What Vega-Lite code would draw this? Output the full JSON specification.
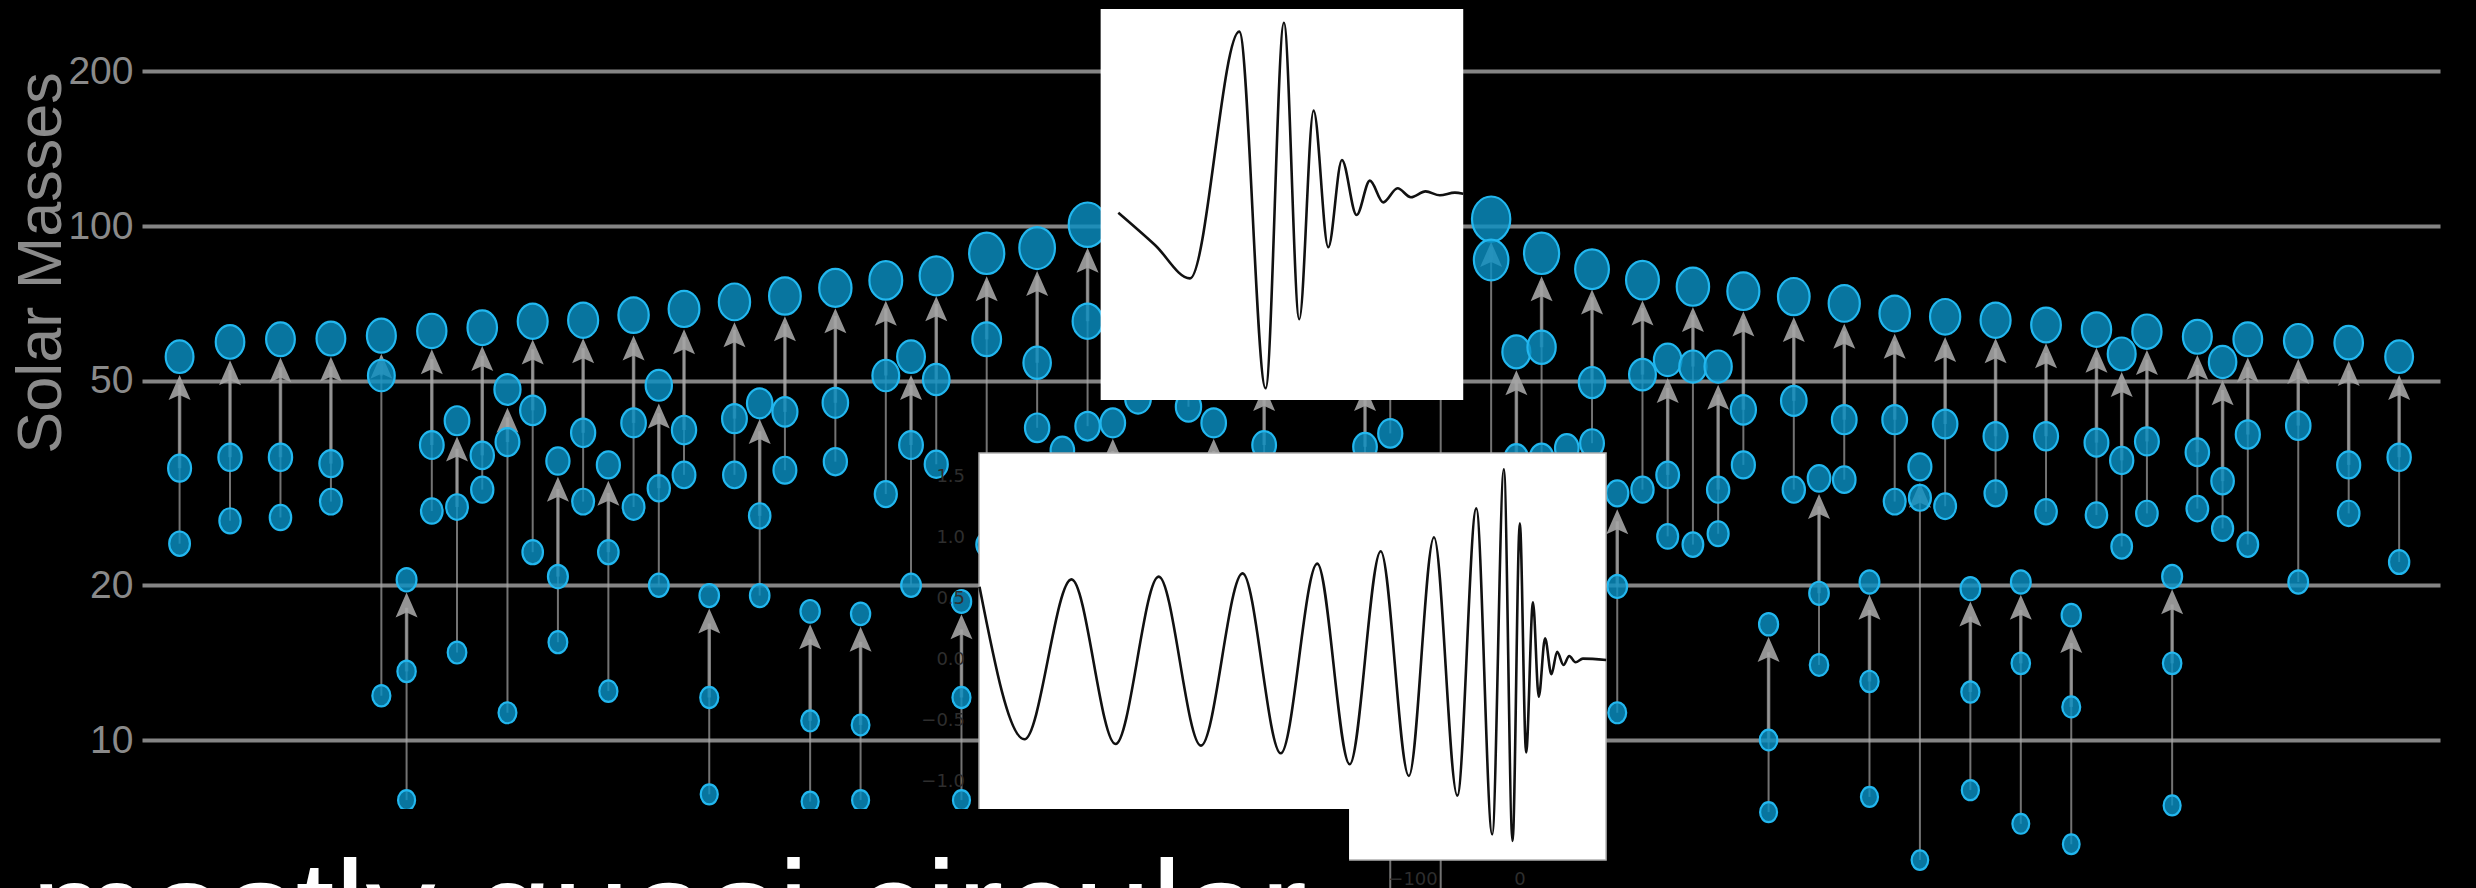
{
"$schema": "https://vega.github.io/schema/vega-lite/v6.json",
"width": 2298, "height": 888,
"autosize": {"type": "none"},
"padding": {"left": 142, "top": 0, "right": 36, "bottom": 0},
"background": "#000000",
"config": {"view": {"stroke": null}},
"datasets": {
"events": [
{"s":0,"mf":55.7,"m1":33.8,"m2":24.1},
{"s":1,"mf":59.5,"m1":35.5,"m2":26.7},
{"s":2,"mf":60.2,"m1":35.5,"m2":27.1},
{"s":3,"mf":60.4,"m1":34.5,"m2":29.1},
{"s":4,"mf":61.2,"m1":51.2,"m2":12.2},
{"s":4.5,"mf":20.5,"m1":13.6,"m2":7.64},
{"s":5,"mf":62.5,"m1":37.5,"m2":27.9},
{"s":5.5,"mf":41.8,"m1":28.4,"m2":14.8},
{"s":6,"mf":63.4,"m1":35.8,"m2":30.7},
{"s":6.5,"mf":48.1,"m1":38.0,"m2":11.3},
{"s":7,"mf":65.3,"m1":43.8,"m2":23.2},
{"s":7.5,"mf":34.9,"m1":20.8,"m2":15.5},
{"s":8,"mf":65.6,"m1":39.6,"m2":29.1},
{"s":8.5,"mf":34.3,"m1":23.2,"m2":12.45},
{"s":9,"mf":67.1,"m1":41.4,"m2":28.4},
{"s":9.5,"mf":49.0,"m1":30.9,"m2":20.0},
{"s":10,"mf":69.0,"m1":40.1,"m2":32.8},
{"s":10.5,"mf":19.1,"m1":12.1,"m2":7.84},
{"s":11,"mf":71.2,"m1":42.2,"m2":32.8},
{"s":11.5,"mf":45.2,"m1":27.3,"m2":19.1},
{"s":12,"mf":73.1,"m1":43.5,"m2":33.5},
{"s":12.5,"mf":17.8,"m1":10.9,"m2":7.59},
{"s":13,"mf":75.8,"m1":45.3,"m2":34.8},
{"s":13.5,"mf":17.6,"m1":10.7,"m2":7.64},
{"s":14,"mf":78.4,"m1":51.2,"m2":30.1},
{"s":14.5,"mf":55.7,"m1":37.5,"m2":20.0},
{"s":15,"mf":80.0,"m1":50.3,"m2":34.4},
{"s":15.5,"mf":18.6,"m1":12.1,"m2":7.64},
{"s":16,"mf":88.5,"m1":60.2,"m2":24.0},
{"s":17,"mf":90.6,"m1":54.2,"m2":40.5},
{"s":17.5,"mf":36.6,"m1":22.0,"m2":15.0},
{"s":18,"mf":100.6,"m1":65.3,"m2":40.8},
{"s":18.5,"mf":41.4,"m1":26.0,"m2":17.0},
{"s":19,"mf":120,"m1":70,"m2":46.2},
{"s":20,"mf":130,"m1":75,"m2":44.5},
{"s":20.5,"mf":41.4,"m1":25.0,"m2":17.0},
{"s":21.5,"mf":53,"m1":37.5,"m2":20},
{"s":23.5,"mf":53,"m1":37.2,"m2":20},
{"s":24,"mf":95,"m1":60,"m2":39.5},
{"s":24,"mf":30,"m1":25,"m2":4.5},
{"s":25,"mf":120,"m1":90,"m2":4.5},
{"s":26,"mf":103.2,"m1":85.9,"m2":20},
{"s":26.5,"mf":56.9,"m1":35.4,"m2":20},
{"s":27,"mf":88.5,"m1":58.1,"m2":35.5},
{"s":27.5,"mf":37.0,"m1":24,"m2":14},
{"s":28,"mf":82.4,"m1":49.6,"m2":37.8},
{"s":28.5,"mf":30.2,"m1":19.9,"m2":11.3},
{"s":29,"mf":78.5,"m1":51.4,"m2":30.7},
{"s":29.5,"mf":54.9,"m1":32.8,"m2":24.9},
{"s":30,"mf":76.2,"m1":53.3,"m2":24.0},
{"s":30.5,"mf":53.3,"m1":30.7,"m2":25.2},
{"s":31,"mf":74.7,"m1":43.9,"m2":34.3},
{"s":31.5,"mf":16.8,"m1":10.0,"m2":7.24},
{"s":32,"mf":72.9,"m1":45.7,"m2":30.7},
{"s":32.5,"mf":32.3,"m1":19.3,"m2":14.0},
{"s":33,"mf":70.7,"m1":42.0,"m2":32.1},
{"s":33.5,"mf":20.3,"m1":13.0,"m2":7.75},
{"s":34,"mf":67.6,"m1":42.0,"m2":29.1},
{"s":34.5,"mf":34.0,"m1":29.6,"m2":5.84},
{"s":35,"mf":66.6,"m1":41.2,"m2":28.5},
{"s":35.5,"mf":19.7,"m1":12.4,"m2":7.99},
{"s":36,"mf":65.6,"m1":39.0,"m2":30.2},
{"s":36.5,"mf":20.3,"m1":14.1,"m2":6.87},
{"s":37,"mf":64.2,"m1":39.0,"m2":27.8},
{"s":37.5,"mf":17.5,"m1":11.6,"m2":6.27},
{"s":38,"mf":62.9,"m1":37.9,"m2":27.4},
{"s":38.5,"mf":56.4,"m1":35.0,"m2":23.8},
{"s":39,"mf":62.3,"m1":38.1,"m2":27.6},
{"s":39.5,"mf":20.8,"m1":14.1,"m2":7.46},
{"s":40,"mf":60.9,"m1":36.3,"m2":28.2},
{"s":40.5,"mf":54.4,"m1":31.9,"m2":25.8},
{"s":41,"mf":60.2,"m1":39.3,"m2":24.0},
{"s":42,"mf":59.8,"m1":40.9,"m2":20.3},
{"s":43,"mf":59.3,"m1":34.3,"m2":27.6},
{"s":44,"mf":55.7,"m1":35.5,"m2":22.2}
],
"topwave": [
{"t":4.87,"h":-0.042},{"t":14.98,"h":-0.207},{"t":24.63,"h":-0.378},{"t":38.24,"h":0.884},
{"t":45.50,"h":-0.940},{"t":50.55,"h":0.930},{"t":54.78,"h":-0.587},{"t":58.73,"h":0.480},
{"t":62.78,"h":-0.219},{"t":66.54,"h":0.228},{"t":70.59,"h":-0.054},{"t":74.26,"h":0.122},
{"t":77.94,"h":0.011},{"t":81.89,"h":0.083},{"t":85.57,"h":0.037},{"t":89.61,"h":0.067},
{"t":93.56,"h":0.047},{"t":97.70,"h":0.061},{"t":100,"h":0.055}
],
"botwave": [
{"t":-505.2,"a":0.601},{"t":-463.2,"a":-0.650},{"t":-419.2,"a":0.661},{"t":-378.0,"a":-0.689},
{"t":-337.7,"a":0.683},{"t":-298.2,"a":-0.702},{"t":-259.3,"a":0.710},{"t":-223.6,"a":-0.765},
{"t":-189.5,"a":0.790},{"t":-159.2,"a":-0.855},{"t":-130.2,"a":0.891},{"t":-103.9,"a":-0.951},
{"t":-80.4,"a":1.006},{"t":-58.6,"a":-1.112},{"t":-40.9,"a":1.243},{"t":-26.0,"a":-1.429},
{"t":-15.1,"a":1.563},{"t":-7.0,"a":-1.484},{"t":-0.2,"a":1.120},{"t":5.7,"a":-0.757},
{"t":12.1,"a":0.473},{"t":17.5,"a":-0.301},{"t":23.4,"a":0.178},{"t":29.3,"a":-0.117},
{"t":34.7,"a":0.068},{"t":40.6,"a":-0.041},{"t":46.0,"a":0.033},{"t":51.9,"a":-0.019},
{"t":58.7,"a":0.011},{"t":80.5,"a":0.0}
]
},
"resolve": {"scale": {"x": "independent", "y": "independent"}},
"layer": [
{
"data": {"name": "events"},
"layer": [
{"mark": {"type": "rule", "color": "#a4a4a4", "strokeWidth": 2, "opacity": 0.7, "y2Offset": 28},
 "encoding": {
  "x": {"field": "s", "type": "quantitative", "scale": {"domain": [-0.745, 44.81], "nice": false, "zero": false}, "axis": null},
  "y": {"field": "m2", "type": "quantitative", "scale": {"type": "log", "domain": [5.154, 275.3], "nice": false},
        "axis": {"values": [10, 20, 50, 100, 200], "format": "d", "grid": true, "gridColor": "#858585", "gridWidth": 4, "domain": false, "ticks": false, "tickSize": 0, "labelPadding": 9, "labelFont": "Liberation Sans", "labelFontSize": 39, "labelColor": "#8a8a8a", "title": "Solar Masses", "titleFont": "Liberation Sans", "titleFontSize": 63, "titleFontWeight": "normal", "titleColor": "#8a8a8a", "titleX": -82, "titleY": 262.5, "titleAngle": -90, "titleAlign": "center", "titleBaseline": "alphabetic"}},
  "y2": {"field": "mf"}
 }},
{"mark": {"type": "rule", "color": "#a4a4a4", "strokeWidth": 3.5, "opacity": 0.7, "y2Offset": 28},
 "encoding": {
  "x": {"field": "s", "type": "quantitative", "scale": {"domain": [-0.745, 44.81], "nice": false, "zero": false}, "axis": null},
  "y": {"field": "m1", "type": "quantitative", "scale": {"type": "log", "domain": [5.154, 275.3], "nice": false},
        "axis": {"values": [10, 20, 50, 100, 200], "format": "d", "grid": true, "gridColor": "#858585", "gridWidth": 4, "domain": false, "ticks": false, "tickSize": 0, "labelPadding": 9, "labelFont": "Liberation Sans", "labelFontSize": 39, "labelColor": "#8a8a8a", "title": "Solar Masses", "titleFont": "Liberation Sans", "titleFontSize": 63, "titleFontWeight": "normal", "titleColor": "#8a8a8a", "titleX": -82, "titleY": 262.5, "titleAngle": -90, "titleAlign": "center", "titleBaseline": "alphabetic"}},
  "y2": {"field": "mf"}
 }},
{"transform": [{"filter": "datum.mf < 27"}],
 "mark": {"type": "point", "shape": "M 0 -1 L 0.88 1 L 0 0.6 L -0.88 1 Z", "size": 625, "filled": true, "color": "#a4a4a4", "opacity": 0.9, "yOffset": 25.3},
 "encoding": {
  "x": {"field": "s", "type": "quantitative", "scale": {"domain": [-0.745, 44.81], "nice": false, "zero": false}, "axis": null},
  "y": {"field": "mf", "type": "quantitative", "scale": {"type": "log", "domain": [5.154, 275.3], "nice": false},
        "axis": {"values": [10, 20, 50, 100, 200], "format": "d", "grid": true, "gridColor": "#858585", "gridWidth": 4, "domain": false, "ticks": false, "tickSize": 0, "labelPadding": 9, "labelFont": "Liberation Sans", "labelFontSize": 39, "labelColor": "#8a8a8a", "title": "Solar Masses", "titleFont": "Liberation Sans", "titleFontSize": 63, "titleFontWeight": "normal", "titleColor": "#8a8a8a", "titleX": -82, "titleY": 262.5, "titleAngle": -90, "titleAlign": "center", "titleBaseline": "alphabetic"}}
 }},
{"transform": [{"filter": "datum.mf >= 27 && datum.mf < 47"}],
 "mark": {"type": "point", "shape": "M 0 -1 L 0.88 1 L 0 0.6 L -0.88 1 Z", "size": 625, "filled": true, "color": "#a4a4a4", "opacity": 0.9, "yOffset": 28.3},
 "encoding": {
  "x": {"field": "s", "type": "quantitative", "scale": {"domain": [-0.745, 44.81], "nice": false, "zero": false}, "axis": null},
  "y": {"field": "mf", "type": "quantitative", "scale": {"type": "log", "domain": [5.154, 275.3], "nice": false},
        "axis": {"values": [10, 20, 50, 100, 200], "format": "d", "grid": true, "gridColor": "#858585", "gridWidth": 4, "domain": false, "ticks": false, "tickSize": 0, "labelPadding": 9, "labelFont": "Liberation Sans", "labelFontSize": 39, "labelColor": "#8a8a8a", "title": "Solar Masses", "titleFont": "Liberation Sans", "titleFontSize": 63, "titleFontWeight": "normal", "titleColor": "#8a8a8a", "titleX": -82, "titleY": 262.5, "titleAngle": -90, "titleAlign": "center", "titleBaseline": "alphabetic"}}
 }},
{"transform": [{"filter": "datum.mf >= 47 && datum.mf < 66"}],
 "mark": {"type": "point", "shape": "M 0 -1 L 0.88 1 L 0 0.6 L -0.88 1 Z", "size": 625, "filled": true, "color": "#a4a4a4", "opacity": 0.9, "yOffset": 30.7},
 "encoding": {
  "x": {"field": "s", "type": "quantitative", "scale": {"domain": [-0.745, 44.81], "nice": false, "zero": false}, "axis": null},
  "y": {"field": "mf", "type": "quantitative", "scale": {"type": "log", "domain": [5.154, 275.3], "nice": false},
        "axis": {"values": [10, 20, 50, 100, 200], "format": "d", "grid": true, "gridColor": "#858585", "gridWidth": 4, "domain": false, "ticks": false, "tickSize": 0, "labelPadding": 9, "labelFont": "Liberation Sans", "labelFontSize": 39, "labelColor": "#8a8a8a", "title": "Solar Masses", "titleFont": "Liberation Sans", "titleFontSize": 63, "titleFontWeight": "normal", "titleColor": "#8a8a8a", "titleX": -82, "titleY": 262.5, "titleAngle": -90, "titleAlign": "center", "titleBaseline": "alphabetic"}}
 }},
{"transform": [{"filter": "datum.mf >= 66 && datum.mf < 84"}],
 "mark": {"type": "point", "shape": "M 0 -1 L 0.88 1 L 0 0.6 L -0.88 1 Z", "size": 625, "filled": true, "color": "#a4a4a4", "opacity": 0.9, "yOffset": 32.8},
 "encoding": {
  "x": {"field": "s", "type": "quantitative", "scale": {"domain": [-0.745, 44.81], "nice": false, "zero": false}, "axis": null},
  "y": {"field": "mf", "type": "quantitative", "scale": {"type": "log", "domain": [5.154, 275.3], "nice": false},
        "axis": {"values": [10, 20, 50, 100, 200], "format": "d", "grid": true, "gridColor": "#858585", "gridWidth": 4, "domain": false, "ticks": false, "tickSize": 0, "labelPadding": 9, "labelFont": "Liberation Sans", "labelFontSize": 39, "labelColor": "#8a8a8a", "title": "Solar Masses", "titleFont": "Liberation Sans", "titleFontSize": 63, "titleFontWeight": "normal", "titleColor": "#8a8a8a", "titleX": -82, "titleY": 262.5, "titleAngle": -90, "titleAlign": "center", "titleBaseline": "alphabetic"}}
 }},
{"transform": [{"filter": "datum.mf >= 84"}],
 "mark": {"type": "point", "shape": "M 0 -1 L 0.88 1 L 0 0.6 L -0.88 1 Z", "size": 625, "filled": true, "color": "#a4a4a4", "opacity": 0.9, "yOffset": 35.5},
 "encoding": {
  "x": {"field": "s", "type": "quantitative", "scale": {"domain": [-0.745, 44.81], "nice": false, "zero": false}, "axis": null},
  "y": {"field": "mf", "type": "quantitative", "scale": {"type": "log", "domain": [5.154, 275.3], "nice": false},
        "axis": {"values": [10, 20, 50, 100, 200], "format": "d", "grid": true, "gridColor": "#858585", "gridWidth": 4, "domain": false, "ticks": false, "tickSize": 0, "labelPadding": 9, "labelFont": "Liberation Sans", "labelFontSize": 39, "labelColor": "#8a8a8a", "title": "Solar Masses", "titleFont": "Liberation Sans", "titleFontSize": 63, "titleFontWeight": "normal", "titleColor": "#8a8a8a", "titleX": -82, "titleY": 262.5, "titleAngle": -90, "titleAlign": "center", "titleBaseline": "alphabetic"}}
 }},
{"transform": [{"fold": ["mf", "m1", "m2"], "as": ["role", "mass"]}],
 "mark": {"type": "point", "shape": "M 0 -1 A 0.85 1 0 1 1 0 1 A 0.85 1 0 1 1 0 -1 Z", "filled": true, "fill": "#0a8fc2", "stroke": "#22b7ef", "strokeWidth": 2.2, "fillOpacity": 0.82, "strokeOpacity": 1, "opacity": 1},
 "encoding": {
  "x": {"field": "s", "type": "quantitative", "scale": {"domain": [-0.745, 44.81], "nice": false, "zero": false}, "axis": null},
  "y": {"field": "mass", "type": "quantitative", "scale": {"type": "log", "domain": [5.154, 275.3], "nice": false},
        "axis": {"values": [10, 20, 50, 100, 200], "format": "d", "grid": true, "gridColor": "#858585", "gridWidth": 4, "domain": false, "ticks": false, "tickSize": 0, "labelPadding": 9, "labelFont": "Liberation Sans", "labelFontSize": 39, "labelColor": "#8a8a8a", "title": "Solar Masses", "titleFont": "Liberation Sans", "titleFontSize": 63, "titleFontWeight": "normal", "titleColor": "#8a8a8a", "titleX": -82, "titleY": 262.5, "titleAngle": -90, "titleAlign": "center", "titleBaseline": "alphabetic"}},
  "size": {"field": "mass", "type": "quantitative", "scale": {"domain": [5, 20, 40, 60, 80, 105], "range": [372, 538, 812, 1136, 1521, 2070], "zero": false, "nice": false}, "legend": null}
 }}
]
},
{
"layer": [
{"data": {"values": [{"t0": 0, "t1": 100, "h0": -1, "h1": 1}]},
 "mark": {"type": "rect", "color": "#ffffff", "opacity": 1},
 "encoding": {
  "x": {"field": "t0", "type": "quantitative", "scale": {"domain": [-264.4, 369.4], "nice": false, "zero": false}, "axis": null},
  "x2": {"field": "t1"},
  "y": {"field": "h0", "type": "quantitative", "scale": {"domain": [-3.496, 1.046], "nice": false, "zero": false}, "axis": null},
  "y2": {"field": "h1"}
 }},
{"data": {"name": "topwave"},
 "mark": {"type": "line", "color": "#111111", "strokeWidth": 2.6, "interpolate": "monotone"},
 "encoding": {
  "x": {"field": "t", "type": "quantitative", "scale": {"domain": [-264.4, 369.4], "nice": false, "zero": false}, "axis": null},
  "y": {"field": "h", "type": "quantitative", "scale": {"domain": [-3.496, 1.046], "nice": false, "zero": false}, "axis": null}
 }}
]
},
{
"layer": [
{"data": {"values": [{"t0": -505.6, "t1": 80.4, "a0": -1.639, "a1": 1.697}]},
 "mark": {"type": "rect", "fill": "#ffffff", "stroke": "#b0b0b0", "strokeWidth": 1.5, "opacity": 1},
 "encoding": {
  "x": {"field": "t0", "type": "quantitative", "scale": {"domain": [-1287.9, 859.8], "nice": false, "zero": false}, "axis": null},
  "x2": {"field": "t1"},
  "y": {"field": "a0", "type": "quantitative", "scale": {"domain": [-1.869, 5.41], "nice": false, "zero": false}, "axis": null},
  "y2": {"field": "a1"}
 }},
{"data": {"name": "botwave"},
 "mark": {"type": "line", "color": "#111111", "strokeWidth": 2.6, "interpolate": "monotone"},
 "encoding": {
  "x": {"field": "t", "type": "quantitative", "scale": {"domain": [-1287.9, 859.8], "nice": false, "zero": false}, "axis": null},
  "y": {"field": "a", "type": "quantitative", "scale": {"domain": [-1.869, 5.41], "nice": false, "zero": false}, "axis": null}
 }},
{"data": {"values": [
  {"t": -518.7, "a": 1.5, "label": "1.5"}, {"t": -518.7, "a": 1.0, "label": "1.0"}, {"t": -518.7, "a": 0.5, "label": "0.5"},
  {"t": -518.7, "a": 0.0, "label": "0.0"}, {"t": -518.7, "a": -0.5, "label": "−0.5"}, {"t": -518.7, "a": -1.0, "label": "−1.0"}]},
 "mark": {"type": "text", "align": "right", "baseline": "middle", "font": "DejaVu Sans", "fontSize": 18, "color": "#2e2e2e"},
 "encoding": {
  "x": {"field": "t", "type": "quantitative", "scale": {"domain": [-1287.9, 859.8], "nice": false, "zero": false}, "axis": null},
  "y": {"field": "a", "type": "quantitative", "scale": {"domain": [-1.869, 5.41], "nice": false, "zero": false}, "axis": null},
  "text": {"field": "label"}
 }},
{"data": {"values": [{"t0": -1400, "t1": -159.8, "a0": -2.0, "a1": -1.221}]},
 "mark": {"type": "rect", "color": "#000000", "opacity": 1},
 "encoding": {
  "x": {"field": "t0", "type": "quantitative", "scale": {"domain": [-1287.9, 859.8], "nice": false, "zero": false}, "axis": null},
  "x2": {"field": "t1"},
  "y": {"field": "a0", "type": "quantitative", "scale": {"domain": [-1.869, 5.41], "nice": false, "zero": false}, "axis": null},
  "y2": {"field": "a1"}
 }},
{"data": {"values": [{"t": -100, "a": -1.803, "label": "−100"}, {"t": 0, "a": -1.803, "label": "0"}]},
 "mark": {"type": "text", "align": "center", "baseline": "middle", "font": "DejaVu Sans", "fontSize": 18, "color": "#2e2e2e"},
 "encoding": {
  "x": {"field": "t", "type": "quantitative", "scale": {"domain": [-1287.9, 859.8], "nice": false, "zero": false}, "axis": null},
  "y": {"field": "a", "type": "quantitative", "scale": {"domain": [-1.869, 5.41], "nice": false, "zero": false}, "axis": null},
  "text": {"field": "label"}
 }},
{"data": {"values": [{"t": -1391.6, "a": -2.44, "label": "mostly quasi-circular"}]},
 "mark": {"type": "text", "align": "left", "baseline": "alphabetic", "font": "Liberation Sans", "fontSize": 140, "color": "#ffffff"},
 "encoding": {
  "x": {"field": "t", "type": "quantitative", "scale": {"domain": [-1287.9, 859.8], "nice": false, "zero": false}, "axis": null},
  "y": {"field": "a", "type": "quantitative", "scale": {"domain": [-1.869, 5.41], "nice": false, "zero": false}, "axis": null},
  "text": {"field": "label"}
 }}
]
}
]
}
